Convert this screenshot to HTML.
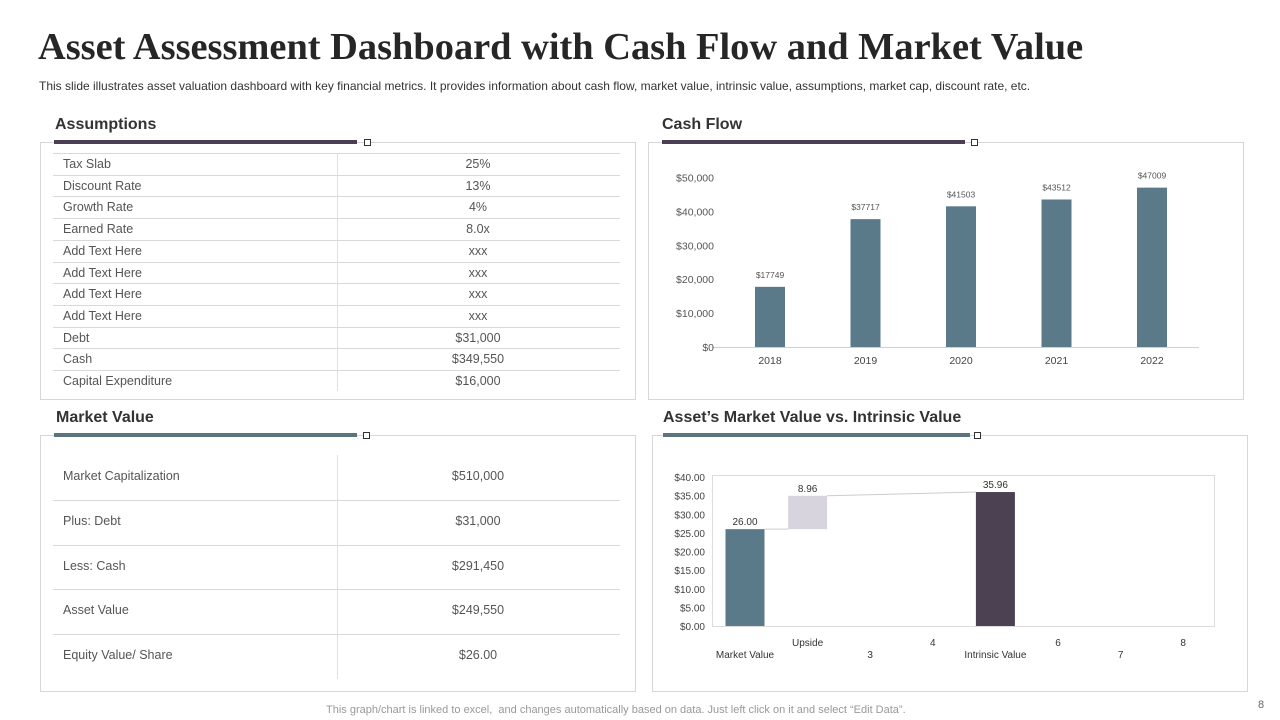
<!DOCTYPE html>
<html><head><meta charset="utf-8">
<style>
body{margin:0;width:1280px;height:720px;background:#fff;position:relative;overflow:hidden;font-family:"Liberation Sans",sans-serif;color:#444}
.abs{position:absolute}
h1{position:absolute;left:38px;top:25px;margin:0;font-family:"Liberation Serif",serif;font-weight:bold;font-size:38.4px;color:#262626;white-space:nowrap}
.sub{left:39px;top:79px;font-size:12px;color:#333}
.ptitle{font-size:16px;font-weight:bold;color:#333}
.box{border:1px solid #d6d6d6;position:absolute}
.bar{position:absolute;height:4px}
.sq{position:absolute;width:5px;height:5px;border:1px solid #333;background:#fff}
.cell{position:absolute;font-size:12.5px;color:#555;white-space:nowrap}
.hl{position:absolute;height:1px;background:#d9d9d9}
.vl{position:absolute;width:1px;background:#e0e0e0}
svg text{font-family:"Liberation Sans",sans-serif}
</style></head><body>
<h1>Asset Assessment Dashboard with Cash Flow and Market Value</h1>
<div class="abs sub">This slide illustrates asset valuation dashboard with key financial metrics. It provides information about cash flow, market value, intrinsic value, assumptions, market cap, discount rate, etc.</div>

<div class="abs ptitle" style="left:55px;top:116px">Assumptions</div>
<div class="box" style="left:40px;top:142px;width:594px;height:256px"></div>
<div class="bar" style="left:54px;top:140px;width:303px;background:#4a3f55"></div>
<div class="sq" style="left:364px;top:139px"></div>
<div id="assum"></div>

<div class="abs ptitle" style="left:56px;top:409px">Market Value</div>
<div class="box" style="left:40px;top:435px;width:594px;height:255px"></div>
<div class="bar" style="left:54px;top:433px;width:303px;background:#5a7480"></div>
<div class="sq" style="left:363px;top:432px"></div>
<div id="mv"></div>

<div class="abs ptitle" style="left:662px;top:116px">Cash Flow</div>
<div class="box" style="left:648px;top:142px;width:594px;height:256px"></div>
<div class="bar" style="left:662px;top:140px;width:303px;background:#4a3f55"></div>
<div class="sq" style="left:971px;top:139px"></div>
<svg class="abs" style="left:0;top:0" width="1280" height="720" id="cf"></svg>

<div class="abs ptitle" style="left:663px;top:409px">Asset’s Market Value vs. Intrinsic Value</div>
<div class="box" style="left:652px;top:435px;width:594px;height:255px"></div>
<div class="bar" style="left:663px;top:433px;width:307px;background:#5a7480"></div>
<div class="sq" style="left:974px;top:432px"></div>
<svg class="abs" style="left:0;top:0" width="1280" height="720" id="wf"></svg>

<div class="abs" style="left:326px;top:704px;font-size:11px;color:#999">This graph/chart is linked to excel,&nbsp; and changes automatically based on data. Just left click on it and select “Edit Data”.</div>
<div class="abs" style="left:1258px;top:699px;font-size:11px;color:#666">8</div>

<script>
const assumLabels=["Tax Slab","Discount Rate","Growth Rate","Earned Rate","Add Text Here","Add Text Here","Add Text Here","Add Text Here","Debt","Cash","Capital Expenditure"];
const assumValues=["25%","13%","4%","8.0x","xxx","xxx","xxx","xxx","$31,000","$349,550","$16,000"];
const mvLabels=["Market Capitalization","Plus: Debt","Less: Cash","Asset Value","Equity Value/ Share"];
const mvValues=["$510,000","$31,000","$291,450","$249,550","$26.00"];

function mk(tag,parent,cls,style,txt){const e=document.createElement(tag);if(cls)e.className=cls;e.setAttribute('style',style);if(txt!==undefined)e.textContent=txt;parent.appendChild(e);return e;}
const A=document.getElementById('assum');
const rh=21.7, top0=153;
for(let i=0;i<assumLabels.length;i++){
  const y=top0+i*rh;
  const l=mk('div',A,'hl',`left:53px;top:${y}px;width:567px`);
  
  
  const a=mk('div',A,'cell',`left:63px;top:${y+4}px`,assumLabels[i]);
  
  
  const b=mk('div',A,'cell',`left:338px;width:280px;text-align:center;top:${y+4}px`,assumValues[i]);
  
  
}
const av=mk('div',A,'vl',`left:337px;top:153px;height:238px`);



const M=document.getElementById('mv');
for(let i=0;i<mvLabels.length;i++){
  const y=455+i*44.8;
  if(i>0){const l=mk('div',M,'hl',`left:53px;top:${y}px;width:567px`);
    
    }
  const a=mk('div',M,'cell',`left:63px;top:${y+14}px`,mvLabels[i]);
  
  
  const b=mk('div',M,'cell',`left:338px;width:280px;text-align:center;top:${y+14}px`,mvValues[i]);
  
  
}
const mvv=mk('div',M,'vl',`left:337px;top:455px;height:224px`);



const cfYears=["2018","2019","2020","2021","2022"];
const cfValues=[17749,37717,41503,43512,47009];
const cfTicks=[0,10000,20000,30000,40000,50000];
const NS='http://www.w3.org/2000/svg';
function se(tag,parent,attrs,txt){const e=document.createElementNS(NS,tag);for(const k in attrs)e.setAttribute(k,attrs[k]);if(txt!==undefined)e.textContent=txt;parent.appendChild(e);return e;}
const cf=document.getElementById('cf');
const cfY=v=>347-v/50000*169.5;
const cfX=i=>770+i*95.5;
const ax=se('line',cf,{x1:712,x2:1199,y1:347.5,y2:347.5,stroke:'#d0d0d0'});


cfTicks.forEach(t=>{
  const tx=se('text',cf,{x:714,y:cfY(t)+4,'text-anchor':'end','font-size':10.5,fill:'#555'},t===0?'$0':'$'+t.toLocaleString('en-US'));
  
  
});
cfValues.forEach((v,i)=>{
  const r=se('rect',cf,{x:cfX(i)-15,y:cfY(v),width:30,height:347-cfY(v),fill:'#5a7989'});
  
  
  const lb=se('text',cf,{x:cfX(i),y:cfY(v)-9,'text-anchor':'middle','font-size':8.5,fill:'#555'},'$'+v);
  
  
  const xl=se('text',cf,{x:cfX(i),y:364,'text-anchor':'middle','font-size':10.5,fill:'#444'},cfYears[i]);
  
  
});

const wfCats=["Market Value","Upside","3","4","Intrinsic Value","6","7","8"];
const wfBase=[0,26.00,0,0,0,0,0,0];
const wfValues=[26.00,8.96,0,0,35.96,0,0,0];
const wfLabels=["26.00","8.96","","","35.96","","",""];
const wfTicks=[0,5,10,15,20,25,30,35,40];
const wf=document.getElementById('wf');
const wY=v=>626-v/40*149;
const wX=i=>745+i*62.6;
const pa=se('rect',wf,{x:712.5,y:475.5,width:502,height:151,fill:'none',stroke:'#dcdcdc'});


wfTicks.forEach(t=>{
  const tx=se('text',wf,{x:705,y:wY(t)+4,'text-anchor':'end','font-size':10,fill:'#444'},'$'+t.toFixed(2));
  
  
});
const wfColors=["#5a7989","#d8d4de","#999","#999","#4c4053","#999","#999","#999"];
const hw=19.5;
const c1=se('line',wf,{x1:wX(0)+hw,y1:wY(wfBase[0]+wfValues[0]),x2:wX(1)-hw,y2:wY(wfBase[1]),stroke:'#ccc'});


const c2=se('line',wf,{x1:wX(1)+hw,y1:wY(wfBase[1]+wfValues[1]),x2:wX(4)-hw,y2:wY(wfValues[4]),stroke:'#ccc'});


wfCats.forEach((c,i)=>{
  if(wfValues[i]>0){
    const top=wY(wfBase[i]+wfValues[i]);
    const r=se('rect',wf,{x:wX(i)-hw,y:top,width:hw*2,height:wY(wfBase[i])-top,fill:wfColors[i]});
    
    
    const lb=se('text',wf,{x:wX(i),y:top-4,'text-anchor':'middle','font-size':10,fill:'#333'},wfLabels[i]);
    
    
  }
  const xl=se('text',wf,{x:wX(i),y:i%2===0?658:646,'text-anchor':'middle','font-size':10,fill:'#333'},c);
  
  
});
</script>
</body></html>
